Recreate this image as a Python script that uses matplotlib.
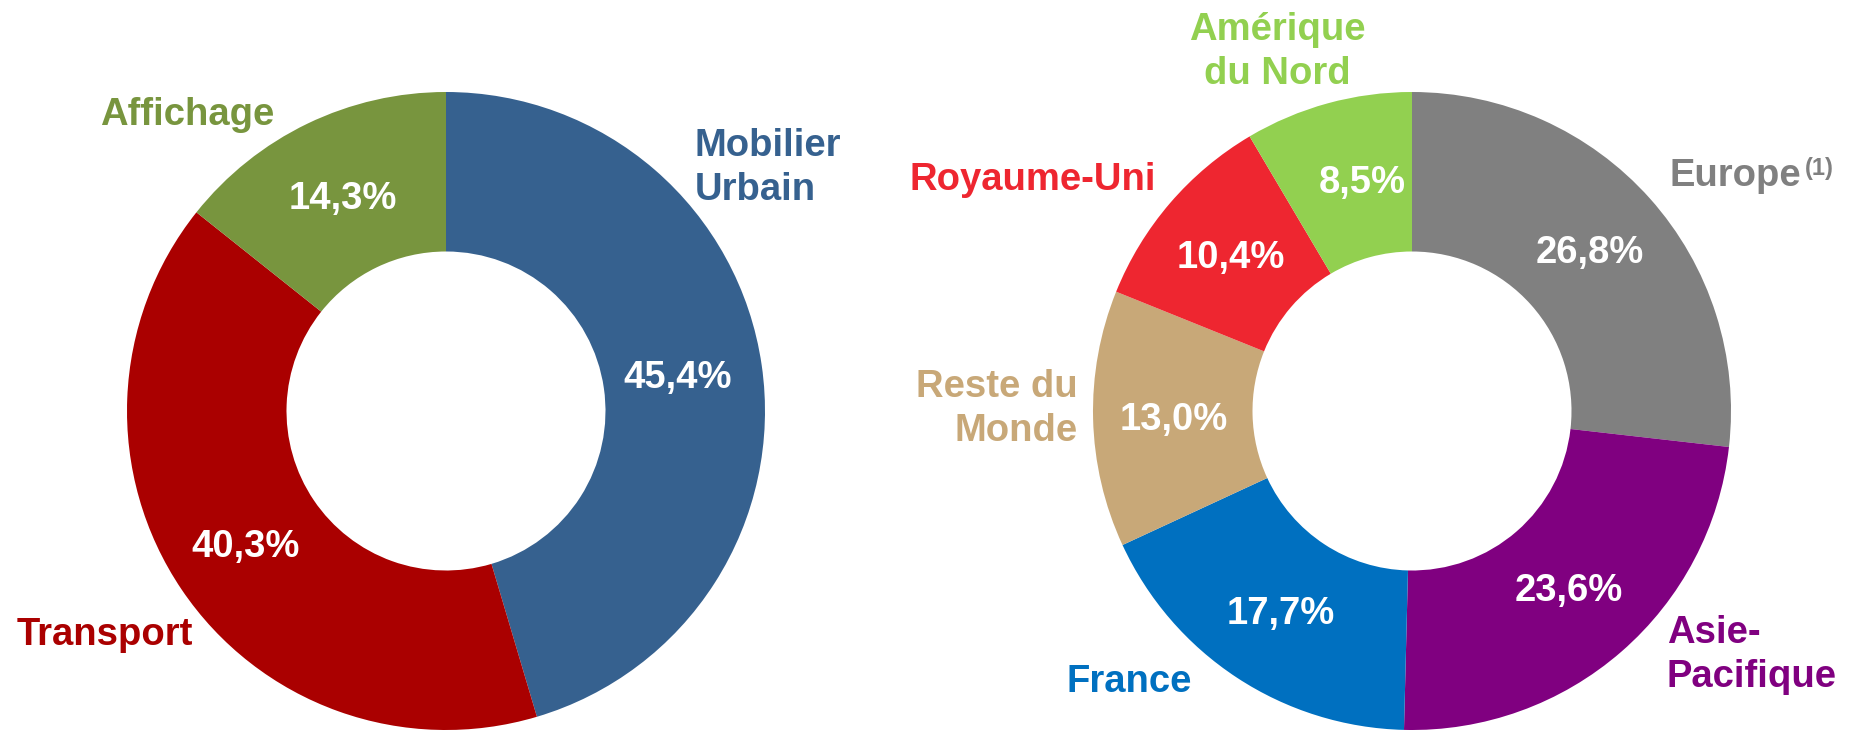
import matplotlib.pyplot as plt

plt.rcParams['font.family'] = ['Liberation Sans', 'DejaVu Sans']

# left donut: activity split
act_labels = ['Mobilier\nUrbain', 'Transport', 'Affichage']
act_values = [45.4, 40.3, 14.3]
act_colors = ['#36618F', '#AA0000', '#78953E']

# right donut: geographic split
geo_labels = ['Europe', 'Asie-\nPacifique', 'France', 'Reste du\nMonde', 'Royaume-Uni', 'Amérique\ndu Nord']
geo_values = [26.8, 23.6, 17.7, 13.0, 10.4, 8.5]
geo_colors = ['#808080', '#800080', '#0070C0', '#C8A878', '#EE2630', '#92D050']

W, H = 1854, 730
fig = plt.figure(figsize=(W / 100, H / 100), dpi=100)
ax = fig.add_axes([0, 0, 1, 1])


def fmt(v):
    return f'{v:.1f}%'.replace('.', ',')


def Y(y):
    # pixel row from top -> data y
    return H - y


R = 319
for vals, cols, cx in [(act_values, act_colors, 446), (geo_values, geo_colors, 1412)]:
    ax.pie(vals, colors=cols, startangle=90, counterclock=False, radius=R,
           center=(cx, Y(411)), wedgeprops=dict(width=R * 0.5, linewidth=0))

ax.set_xlim(0, W)
ax.set_ylim(0, H)
ax.set_aspect('equal')
ax.axis('off')

big = dict(fontsize=27.5, fontweight='bold')
ls = 1.32

# percent labels, left
pos_pct_l = [(678, 378), (246, 547), (343, 199)]
for v, (x, y) in zip(act_values, pos_pct_l):
    ax.text(x, Y(y), fmt(v), color='white', ha='center', va='center', **big)

# category labels, left
ax.text(695, Y(168), act_labels[0], color=act_colors[0], ha='left', va='center', linespacing=ls, **big)
ax.text(17, Y(635), act_labels[1], color=act_colors[1], ha='left', va='center', **big)
ax.text(187, Y(115), act_labels[2], color=act_colors[2], ha='center', va='center', **big)

# percent labels, right
pos_pct_r = [(1590, 253), (1569, 591), (1281, 614), (1174, 420), (1231, 258), (1362, 183)]
for v, (x, y) in zip(geo_values, pos_pct_r):
    ax.text(x, Y(y), fmt(v), color='white', ha='center', va='center', **big)

# category labels, right
ax.text(1670, Y(176), geo_labels[0], color=geo_colors[0], ha='left', va='center', **big)
ax.text(1805, Y(168), '(1)', color=geo_colors[0], ha='left', va='center', fontsize=17, fontweight='bold')
ax.text(1667, Y(655), geo_labels[1], color=geo_colors[1], ha='left', va='center', linespacing=ls, **big)
ax.text(1129, Y(682), geo_labels[2], color=geo_colors[2], ha='center', va='center', **big)
ax.text(1078, Y(409), geo_labels[3], color=geo_colors[3], ha='right', va='center', multialignment='right', linespacing=ls, **big)
ax.text(1033, Y(180), geo_labels[4], color=geo_colors[4], ha='center', va='center', **big)
ax.text(1277, Y(52), geo_labels[5], color=geo_colors[5], ha='center', va='center', multialignment='center', linespacing=ls, **big)

fig.savefig('out.png', dpi=100)
